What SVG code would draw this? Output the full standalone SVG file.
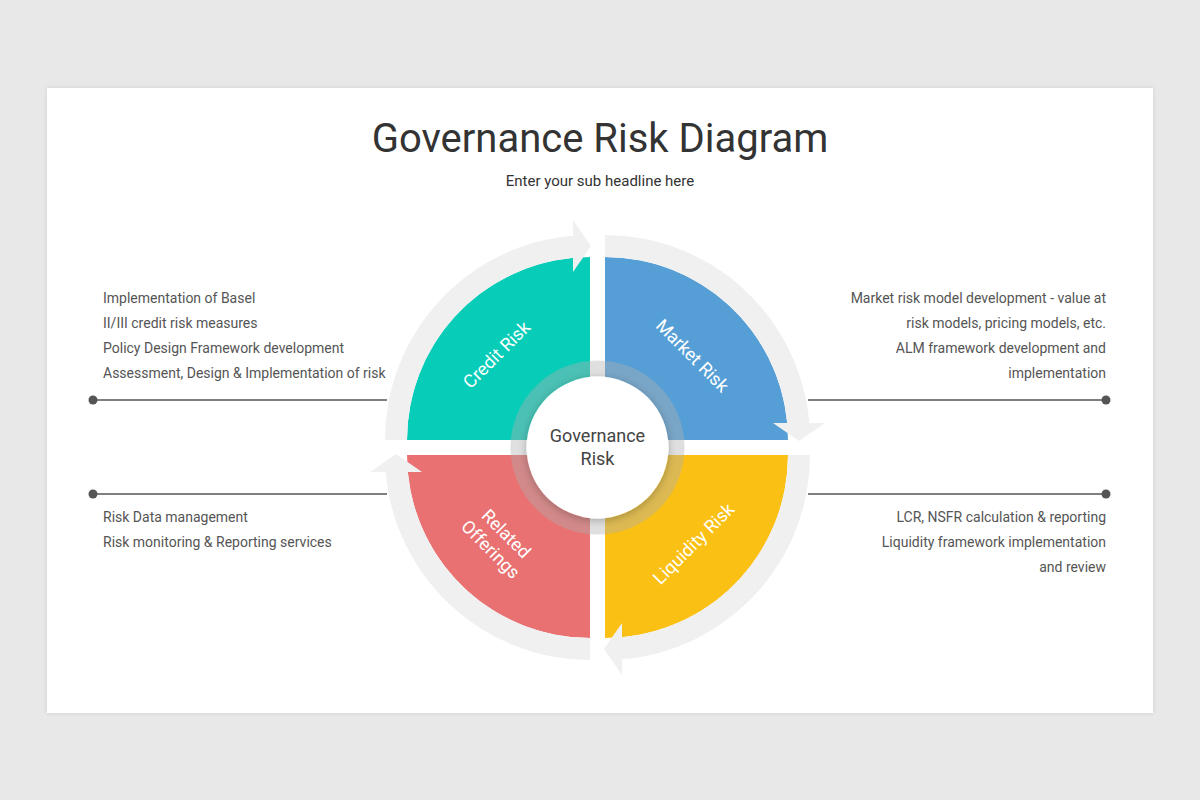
<svg xmlns="http://www.w3.org/2000/svg" width="1200" height="800" viewBox="0 0 1200 800">
<defs>
<style>
.title{font-family:Roboto,"Liberation Sans",sans-serif;font-size:40px;fill:#333;text-anchor:middle}
.sub{font-family:Roboto,"Liberation Sans",sans-serif;font-size:15px;fill:#333;text-anchor:middle}
.body{font-family:Roboto,"Liberation Sans",sans-serif;font-size:14px;fill:#555}
.r{text-anchor:end}
.lbl{font-family:Roboto,"Liberation Sans",sans-serif;font-size:18px;fill:#fff;text-anchor:middle}
.ctr{font-family:Roboto,"Liberation Sans",sans-serif;font-size:18px;fill:#444;text-anchor:middle}
.band{fill:#f0f0f0}
.conn{stroke:#555;stroke-width:1.5;fill:none}
.dot{fill:#555}
</style>
<path id="quad" d="M0,0 L-183,0 A183,183 0 0 1 0,-183 Z"/>
<path id="band" d="M-205,0 A205,205 0 0 1 -17,-204.3 L-17,-220 L1,-194 L-17,-168 L-17,-182.2 A183,183 0 0 0 -183,0 Z"/>
<filter id="sh" x="-20%" y="-20%" width="140%" height="140%">
<feGaussianBlur in="SourceAlpha" stdDeviation="4"/>
<feOffset dy="2" result="b"/>
<feComponentTransfer><feFuncA type="linear" slope="0.25"/></feComponentTransfer>
<feMerge><feMergeNode/><feMergeNode in="SourceGraphic"/></feMerge>
</filter>
<filter id="cardsh" x="-5%" y="-5%" width="110%" height="110%">
<feGaussianBlur in="SourceAlpha" stdDeviation="2"/>
<feComponentTransfer><feFuncA type="linear" slope="0.12"/></feComponentTransfer>
<feMerge><feMergeNode/><feMergeNode in="SourceGraphic"/></feMerge>
</filter>
</defs>
<rect x="0" y="0" width="1200" height="800" fill="#e9e8e9"/>
<rect x="47" y="88" width="1106" height="625" fill="#fff" filter="url(#cardsh)"/>
<text class="title" x="600" y="152">Governance Risk Diagram</text>
<text class="sub" x="600" y="186">Enter your sub headline here</text>

<g id="connectors">
<line class="conn" x1="93" y1="400" x2="387" y2="400"/>
<circle class="dot" cx="93" cy="400" r="4.5"/>
<line class="conn" x1="808" y1="400" x2="1106" y2="400"/>
<circle class="dot" cx="1106" cy="400" r="4.5"/>
<line class="conn" x1="93" y1="494" x2="387" y2="494"/>
<circle class="dot" cx="93" cy="494" r="4.5"/>
<line class="conn" x1="808" y1="494" x2="1106" y2="494"/>
<circle class="dot" cx="1106" cy="494" r="4.5"/>
</g>

<g id="credit-risk">
<use href="#quad" transform="translate(590,440)" fill="#07cdb8"/>
<use href="#band" class="band" transform="translate(590,440)"/>
<text class="lbl" transform="translate(501,359) rotate(-45)">Credit Risk</text>
</g>
<g id="market-risk">
<use href="#quad" transform="translate(605,440) rotate(90)" fill="#559fd6"/>
<use href="#band" class="band" transform="translate(605,440) rotate(90)"/>
<text class="lbl" transform="translate(688,360) rotate(45)">Market Risk</text>
</g>
<g id="liquidity-risk">
<use href="#quad" transform="translate(605,455) rotate(180)" fill="#fbc014"/>
<use href="#band" class="band" transform="translate(605,455) rotate(180)"/>
<text class="lbl" transform="translate(698,548) rotate(-45)">Liquidity Risk</text>
</g>
<g id="related-offerings">
<use href="#quad" transform="translate(590,455) rotate(270)" fill="#e97171"/>
<use href="#band" class="band" transform="translate(590,455) rotate(270)"/>
<text class="lbl" transform="translate(499,541) rotate(45)"><tspan x="0" y="-4">Related</tspan><tspan x="0" y="18">Offerings</tspan></text>
</g>

<g id="governance-risk">
<circle cx="597.5" cy="447.5" r="79" fill="none" stroke="rgba(175,175,175,0.4)" stroke-width="16"/>
<circle cx="597.5" cy="447.5" r="71" fill="#fff" filter="url(#sh)"/>
<text class="ctr" x="597.5" y="442">Governance</text>
<text class="ctr" x="597.5" y="465">Risk</text>
</g>

<g id="credit-text">
<text class="body" x="103" y="303">Implementation of Basel</text>
<text class="body" x="103" y="328">II/III credit risk measures</text>
<text class="body" x="103" y="353">Policy Design Framework development</text>
<text class="body" x="103" y="378">Assessment, Design &amp; Implementation of risk</text>
</g>
<g id="market-text">
<text class="body r" x="1106" y="303">Market risk model development - value at</text>
<text class="body r" x="1106" y="328">risk models, pricing models, etc.</text>
<text class="body r" x="1106" y="353">ALM framework development and</text>
<text class="body r" x="1106" y="378">implementation</text>
</g>
<g id="related-text">
<text class="body" x="103" y="522">Risk Data management</text>
<text class="body" x="103" y="547">Risk monitoring &amp; Reporting services</text>
</g>
<g id="liquidity-text">
<text class="body r" x="1106" y="522">LCR, NSFR calculation &amp; reporting</text>
<text class="body r" x="1106" y="547">Liquidity framework implementation</text>
<text class="body r" x="1106" y="572">and review</text>
</g>
</svg>
